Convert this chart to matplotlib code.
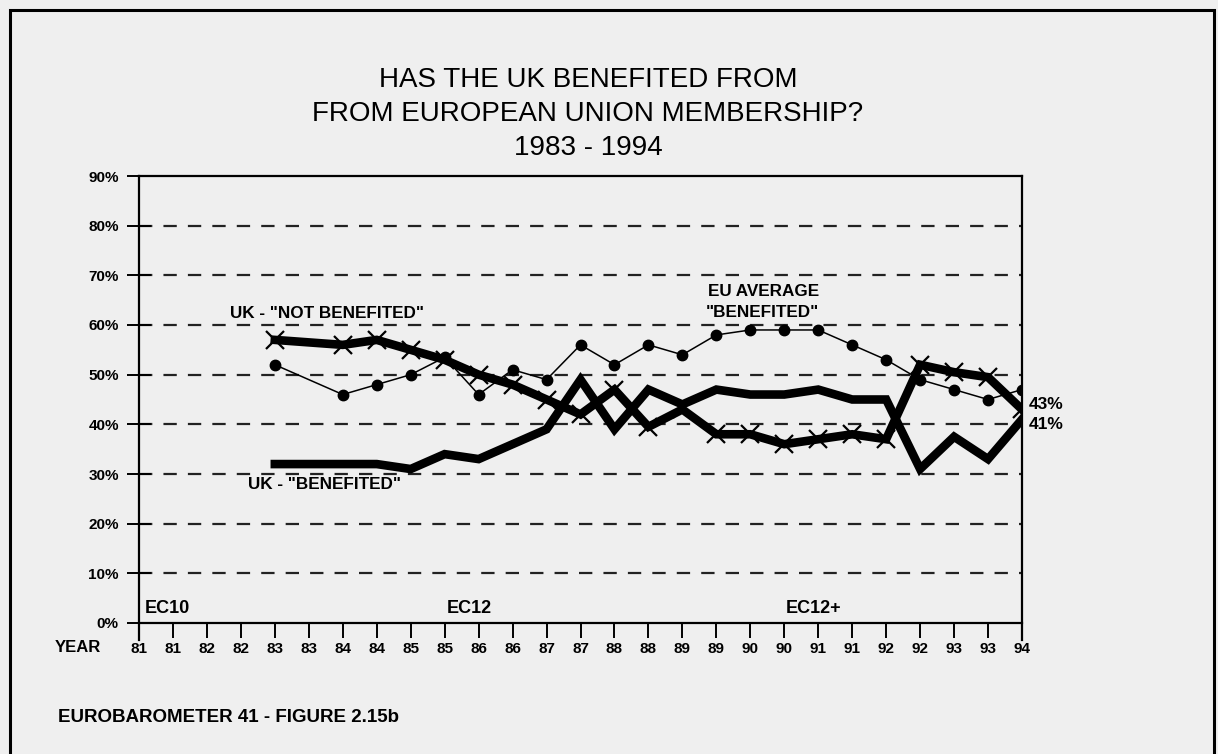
import matplotlib
matplotlib.use("Agg")
import matplotlib.pyplot as plt
from matplotlib.patches import Rectangle

plt.rcParams['font.family'] = ['Liberation Sans', 'DejaVu Sans']

# ---- data ----
TICK_LABELS = ['81', '81', '82', '82', '83', '83', '84', '84', '85', '85', '86', '86',
               '87', '87', '88', '88', '89', '89', '90', '90', '91', '91', '92', '92',
               '93', '93', '94']
WAVE_POS = [4, 6, 7, 8, 9, 10, 11, 12, 13, 14, 15, 16, 17, 18, 19, 20, 21, 22, 23, 24, 25, 26]
UK_NOT_BENEFITED = [57, 56, 57, 55, 53, 50, 48, 45, 42, 47, 39.5, 43, 38, 38, 36, 37, 38, 37,
                    52, 50.5, 49.5, 43]
UK_BENEFITED = [32, 32, 32, 31, 34, 33, 36, 39, 49, 39, 47, 44, 47, 46, 46, 47, 45, 45,
                31, 37.5, 33, 41]
EU_BENEFITED = [52, 46, 48, 50, 53.5, 46, 51, 49, 56, 52, 56, 54, 58, 59, 59, 59, 56, 53,
                49, 47, 45, 47]
Y_TICKS = [0, 10, 20, 30, 40, 50, 60, 70, 80, 90]
TITLE = "HAS THE UK BENEFITED FROM\nFROM EUROPEAN UNION MEMBERSHIP?\n1983 - 1994"

BG = '#efefef'
W, H = 1218, 754
fig = plt.figure(figsize=(W / 100, H / 100), dpi=100, facecolor=BG)

# outer frame
fig.patches.append(Rectangle((10 / W, -0.01), (1214 - 10) / W, 1.0 - 10 / H + 0.01,
                             transform=fig.transFigure, fill=False,
                             edgecolor='black', linewidth=2.2))

left, right, top, bottom = 139, 1022, 176, 623
ax = fig.add_axes([left / W, 1 - bottom / H, (right - left) / W, (bottom - top) / H])
ax.set_facecolor(BG)
ax.set_xlim(0, len(TICK_LABELS) - 1)
ax.set_ylim(0, 90)

# grid
for v in Y_TICKS[1:-1]:
    ax.axhline(v, color='#222222', linewidth=1.6, dashes=(6, 5), zorder=1)

for s in ['left', 'right', 'top', 'bottom']:
    ax.spines[s].set_linewidth(1.6)
    ax.spines[s].set_color('black')
ax.spines['left'].set_bounds(-3.5, 90)
ax.spines['right'].set_bounds(-3.5, 90)

ax.set_yticks(Y_TICKS)
ax.set_yticklabels([f"{v}%" for v in Y_TICKS], fontsize=11, fontweight='bold')
ax.tick_params(axis='y', direction='inout', length=17, width=1.4, pad=6)
ax.set_xticks(range(len(TICK_LABELS)))
ax.set_xticklabels(TICK_LABELS, fontsize=11, fontweight='bold')
ax.tick_params(axis='x', direction='out', length=11, width=1.4, pad=3)

# series
ax.plot(WAVE_POS, EU_BENEFITED, color='black', linewidth=1.1, marker='o',
        markersize=7.5, zorder=3)
ax.plot(WAVE_POS, UK_BENEFITED, color='black', linewidth=6.2, solid_joinstyle='miter',
        zorder=4)
ax.plot(WAVE_POS, UK_NOT_BENEFITED, color='black', linewidth=6.2, marker='x',
        markersize=13, markeredgewidth=1.6, solid_joinstyle='miter', zorder=5)

# annotations
lab = dict(fontsize=12.3, fontweight='bold', ha='center', va='center')
ax.text(5.55, 62.4, 'UK - "NOT BENEFITED"', **lab)
ax.text(5.45, 27.8, 'UK - "BENEFITED"', **lab)
ax.text(18.4, 66.8, 'EU AVERAGE', **lab)
ax.text(18.35, 62.6, '"BENEFITED"', **lab)
ax.text(26.2, 44, '43%', fontsize=12.5, fontweight='bold', ha='left', va='center')
ax.text(26.2, 40, '41%', fontsize=12.5, fontweight='bold', ha='left', va='center')
ec = dict(fontsize=13, fontweight='bold', ha='left', va='center')
ax.text(0.18, 3, 'EC10', **ec)
ax.text(9.05, 3, 'EC12', **ec)
ax.text(19.05, 3, 'EC12+', **ec)

fig.text(55 / W, 1 - 648 / H, 'YEAR', fontsize=12, fontweight='bold', ha='left', va='center')
fig.text(588 / W, 1 - 114 / H, TITLE, fontsize=20, ha='center', va='center',
         linespacing=1.42)
fig.text(58 / W, 1 - 718 / H, 'EUROBAROMETER 41 - FIGURE 2.15b', fontsize=13.5,
         fontweight='bold', ha='left', va='center')

fig.savefig('out.png', dpi=100, facecolor=BG)
